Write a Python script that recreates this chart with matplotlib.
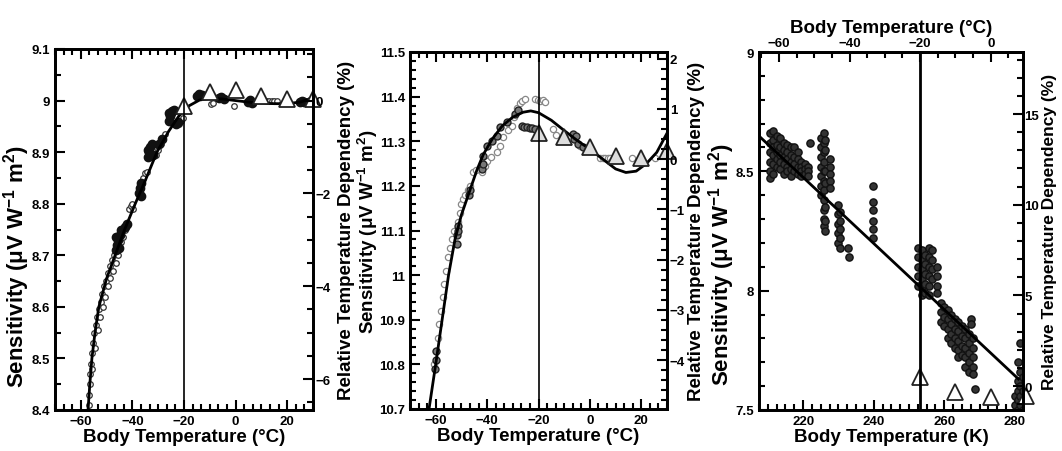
import matplotlib
matplotlib.use('Agg')
import matplotlib.pyplot as plt
from matplotlib.ticker import MultipleLocator, FixedLocator

plt.rcParams['font.family'] = ['Liberation Sans', 'DejaVu Sans']
plt.rcParams['font.weight'] = 'bold'
plt.rcParams['mathtext.fontset'] = 'custom'
plt.rcParams['mathtext.rm'] = 'Liberation Sans:bold'
plt.rcParams['mathtext.it'] = 'Liberation Sans:bold'
plt.rcParams['mathtext.bf'] = 'Liberation Sans:bold'

# ---------------- panel 1 data (deg C, sensitivity) ----------------
fit1_t = [-57.2, -56.5, -55.7, -54.5, -53.0, -50.0, -46.7, -43.0, -38.9, -35.0,
          -30.5, -26.0, -22.0, -18.0, -14.0, -10.0, -5.0, 0.0, 5.0, 10.0,
          15.0, 20.0, 25.0, 28.0, 30.0]
fit1_s = [8.40, 8.45, 8.50, 8.55, 8.60, 8.655, 8.70, 8.75, 8.80, 8.845,
          8.90, 8.94, 8.97, 8.99, 9.001, 9.004, 9.003, 9.000, 8.997, 8.995,
          8.994, 8.994, 8.997, 9.002, 9.008]

open1_t = [-57.0, -56.8, -56.6, -56.3, -56.0, -55.6, -55.2, -54.7, -54.2, -53.6,
           -53.0, -52.3, -51.6, -50.9, -50.2, -49.4, -48.6, -47.8, -47.0, -55.5,
           -54.5, -53.5, -52.5, -51.5, -50.5, -49.5, -48.5, -47.5, -46.5, -45.5,
           -44.5, -43.5, -43.0, -41.5, -40.5, -40.0, -39.8, -36.0, -35.0, -34.4,
           -31.0, -30.0, -29.0, -28.0, -27.5, -21.8, -21.0, -20.5, -9.5, -8.8,
           -0.8, 12.0, 13.0, 14.0, 15.0, 16.0]
open1_s = [8.41, 8.43, 8.45, 8.47, 8.49, 8.51, 8.53, 8.55, 8.565, 8.58,
           8.595, 8.61, 8.625, 8.64, 8.65, 8.665, 8.68, 8.69, 8.70, 8.48,
           8.52, 8.555, 8.58, 8.60, 8.62, 8.64, 8.655, 8.67, 8.685, 8.70,
           8.725, 8.735, 8.75, 8.79, 8.795, 8.80, 8.79, 8.85, 8.86, 8.862,
           8.895, 8.905, 8.915, 8.925, 8.935, 8.955, 8.96, 8.966, 8.994, 8.995,
           8.99, 9.0, 9.0, 9.0, 9.0, 9.0]

dark1_t = [-46.5, -46.0, -45.5, -45.0, -44.5, -46.3, -45.3, -43.0, -42.2, -37.5,
           -37.0, -36.5, -36.8, -34.0, -33.5, -33.0, -32.5, -33.8, -32.0, -29.5,
           -28.5, -26.0, -25.5, -25.0, -24.5, -24.0, -25.8, -23.2, -22.5, -15.0,
           -14.0, -13.2, -6.5, -5.5, -4.5, 4.8, 5.5, 6.2, 25.0, 25.8, 26.5]
dark1_s = [8.71, 8.72, 8.73, 8.74, 8.75, 8.735, 8.715, 8.755, 8.76, 8.82,
           8.83, 8.84, 8.815, 8.89, 8.90, 8.91, 8.915, 8.905, 8.895, 8.915,
           8.925, 8.96, 8.97, 8.975, 8.98, 8.982, 8.975, 8.955, 8.958, 9.008,
           9.012, 9.01, 9.005, 9.007, 9.004, 8.997, 9.002, 8.996, 8.997, 9.0, 8.998]

tri1_t = [-20, -10, 0, 10, 20, 30]
tri1_s = [8.99, 9.016, 9.021, 9.008, 9.003, 9.004]

# ---------------- panel 2 data ----------------
fit2_t = [-62.6, -60.0, -57.5, -55.0, -52.5, -50.0, -47.0, -44.0, -41.5, -38.0,
          -34.0, -30.0, -26.0, -23.0, -20.0, -15.0, -10.0, -5.0, 0.0, 5.0,
          10.0, 14.0, 18.0, 22.0, 26.0, 30.0]
fit2_s = [10.70, 10.80, 10.90, 11.00, 11.08, 11.135, 11.185, 11.235, 11.27, 11.305,
          11.335, 11.354, 11.365, 11.368, 11.364, 11.347, 11.324, 11.302, 11.282, 11.26,
          11.238, 11.23, 11.233, 11.25, 11.275, 11.318]

grey2_t = [-60.5, -59.8, -59.2, -58.6, -58.0, -57.3, -56.6, -55.9, -55.2, -54.5,
           -53.8, -53.0, -51.5, -50.5, -50.0, -49.2, -48.5, -47.5, -46.6, -45.4,
           -44.5, -42.0, -41.0, -40.0, -38.5, -36.3, -35.0, -33.7, -31.8, -30.5,
           -29.5, -28.5, -27.2, -26.5, -25.3, -21.2, -20.2, -19.3, -18.3, -17.3,
           -14.2, -13.0, -4.0, 4.0, 5.0, 6.0, 7.0, 8.0, 16.2, 25.3]
grey2_s = [10.80, 10.83, 10.86, 10.89, 10.92, 10.95, 10.98, 11.01, 11.04, 11.06,
           11.08, 11.10, 11.12, 11.14, 11.16, 11.17, 11.18, 11.19, 11.20, 11.23,
           11.235, 11.23, 11.245, 11.255, 11.265, 11.275, 11.29, 11.309, 11.325, 11.335,
           11.355, 11.375, 11.385, 11.39, 11.395, 11.395, 11.393, 11.39, 11.392, 11.388,
           11.327, 11.315, 11.29, 11.262, 11.262, 11.262, 11.262, 11.262, 11.262, 11.262]

dark2_t = [-60.3, -60.0, -59.7, -51.8, -51.7, -51.5, -51.4, -47.0, -46.5, -42.1,
           -41.5, -41.5, -40.2, -38.2, -36.3, -35.0, -32.4, -29.0, -28.0, -26.5,
           -25.5, -24.5, -23.5, -22.5, -21.5, -6.5, -6.0, -5.5, -4.6, -2.5]
dark2_s = [10.79, 10.81, 10.83, 11.07, 11.09, 11.11, 11.10, 11.18, 11.19, 11.238,
           11.25, 11.268, 11.29, 11.301, 11.312, 11.331, 11.344, 11.36, 11.37, 11.335,
           11.332, 11.333, 11.33, 11.33, 11.328, 11.317, 11.306, 11.312, 11.294, 11.288]

tri2_t = [-20, -10, 0, 10, 20, 30]
tri2_s = [11.318, 11.309, 11.287, 11.267, 11.263, 11.279]

# ---------------- panel 3 data (Kelvin, sensitivity) ----------------
dots3_k = ([210.5] * 6 + [211.5] * 6 + [212.5] * 5 + [213.5] * 5 + [214.5] * 5 +
           [215.5] * 5 + [216.5] * 5 + [217.5] * 4 + [218.5] * 4 + [219.5] * 4 +
           [220.5] * 3 + [221.5] * 3 + [222.0] +
           [225.2] * 7 + [225.8] * 11 + [226.3] * 7 + [227.6] * 5 +
           [229.8] * 5 + [230.4] * 5 + [232.8, 233.0] + [239.8] * 6 +
           [252.6] * 5 + [253.6] * 6 + [254.6] * 5 + [255.6] * 6 + [256.6] * 4 + [257.9] * 4 +
           [259.0] * 3 + [260.0] * 3 + [261.0] * 4 + [262.0] * 4 + [263.0] * 4 +
           [264.0] * 5 + [265.0] * 4 + [266.0] * 5 + [267.0] * 5 + [267.5] * 2 +
           [268.0] * 5 + [268.7] +
           [280.0] * 2 + [280.8] * 5 + [281.5] * 5 + [282.2] * 4)
dots3_s = ([8.66, 8.62, 8.58, 8.54, 8.50, 8.47] + [8.67, 8.63, 8.60, 8.57, 8.53, 8.49] +
           [8.65, 8.61, 8.58, 8.55, 8.52] + [8.64, 8.60, 8.57, 8.54, 8.51] +
           [8.62, 8.59, 8.56, 8.53, 8.49] + [8.61, 8.58, 8.55, 8.52, 8.50] +
           [8.60, 8.57, 8.54, 8.51, 8.48] + [8.60, 8.56, 8.53, 8.50] +
           [8.58, 8.55, 8.52, 8.49] + [8.54, 8.52, 8.50, 8.48] +
           [8.53, 8.51, 8.49] + [8.52, 8.50, 8.48] + [8.62] +
           [8.64, 8.60, 8.56, 8.52, 8.48, 8.44, 8.40] +
           [8.66, 8.62, 8.58, 8.54, 8.50, 8.46, 8.42, 8.38, 8.34, 8.30, 8.27] +
           [8.63, 8.59, 8.50, 8.45, 8.35, 8.29, 8.25] + [8.55, 8.52, 8.49, 8.46, 8.43] +
           [8.36, 8.32, 8.28, 8.24, 8.20] + [8.33, 8.29, 8.26, 8.22, 8.18] + [8.18, 8.14] +
           [8.44, 8.37, 8.34, 8.29, 8.26, 8.22] +
           [8.18, 8.14, 8.10, 8.06, 8.02] + [8.17, 8.13, 8.09, 8.05, 8.01, 7.98] +
           [8.15, 8.11, 8.07, 8.03, 7.99] + [8.18, 8.14, 8.10, 8.06, 8.02, 7.98] +
           [8.17, 8.13, 8.09, 8.05] + [8.10, 8.06, 8.02, 7.99] +
           [7.95, 7.91, 7.87] + [7.93, 7.89, 7.85] + [7.92, 7.88, 7.84, 7.80] +
           [7.90, 7.86, 7.82, 7.78] + [7.88, 7.84, 7.80, 7.76] +
           [7.87, 7.83, 7.79, 7.75, 7.72] + [7.85, 7.81, 7.77, 7.73] +
           [7.84, 7.80, 7.76, 7.72, 7.68] + [7.82, 7.78, 7.74, 7.70, 7.66] + [7.88, 7.86] +
           [7.80, 7.76, 7.72, 7.68, 7.65] + [7.59] +
           [7.56, 7.52] + [7.70, 7.62, 7.58, 7.54, 7.50] +
           [7.78, 7.66, 7.60, 7.56, 7.52] + [7.64, 7.58, 7.54, 7.50])

fit3_k = [207.5, 281.0]
fit3_s = [8.648, 7.63]

tri3_k = [253.15, 263.15, 273.15, 283.15]
tri3_s = [7.64, 7.575, 7.555, 7.56]

# top axis of panel 3 (deg C)
top3_ticks = [-60, -40, -20, 0]

# reference sensitivity for the relative (%) axis
ref1, ref2, ref3 = 9.0, 11.26, 7.6

ylabel = 'Sensitivity (\u03bcV W$^{-1}$ m$^{2}$)'
rlabel = 'Relative Temperature Dependency (%)'
LFS = 13.5  # axis label size
TFS = 9.5   # tick label size
W, H = 1062, 452
fig = plt.figure(figsize=(W / 100, H / 100), dpi=100)


def box(l, r, t, b):
    return [l / W, (H - b) / H, (r - l) / W, (b - t) / H]


def style(ax, top=True):
    for sp in ax.spines.values():
        sp.set_linewidth(2)
    ax.tick_params(which='both', direction='in', top=top, right=False, width=1.5, labelsize=TFS)
    ax.tick_params(which='major', length=7)
    ax.tick_params(which='minor', length=4)


def right_axis(ax, ref, major, minor, xlabel_pos, fs=LFS, pad=2):
    ax2 = ax.twinx()
    lo, hi = ax.get_ylim()
    ax2.set_ylim((lo / ref - 1) * 100, (hi / ref - 1) * 100)
    ax2.yaxis.set_major_locator(MultipleLocator(major))
    ax2.yaxis.set_minor_locator(MultipleLocator(minor))
    ax2.tick_params(which='both', direction='in', width=1.5, labelsize=TFS, pad=pad)
    ax2.tick_params(which='major', length=7)
    ax2.tick_params(which='minor', length=4)
    for sp in ax2.spines.values():
        sp.set_linewidth(2)
    ax2.set_ylabel(rlabel, fontsize=fs, fontweight='bold')
    ax2.yaxis.set_label_coords(xlabel_pos, 0.5)
    return ax2


# ---- panel 1 ----
ax = fig.add_axes(box(55, 313, 50, 411))
ax.plot(open1_t, open1_s, 'o', ms=4, mfc='white', mec='#333333', mew=0.9)
ax.plot(dark1_t, dark1_s, 'o', ms=6, mfc='#111111', mec='#111111')
ax.plot(fit1_t, fit1_s, '-', color='k', lw=2)
ax.plot(tri1_t, tri1_s, '^', ms=11, mfc='white', mec='#222222', mew=1.3, clip_on=False)
ax.axvline(-20, color='k', lw=1.2)
ax.set_xlim(-70, 30)
ax.set_ylim(8.4, 9.1)
ax.xaxis.set_major_locator(MultipleLocator(20))
ax.xaxis.set_minor_locator(MultipleLocator(10 / 3))
ax.set_yticks([8.4, 8.5, 8.6, 8.7, 8.8, 8.9, 9.0, 9.1], ['8.4', '8.5', '8.6', '8.7', '8.8', '8.9', '9', '9.1'])
ax.yaxis.set_minor_locator(MultipleLocator(0.05))
style(ax)
ax.set_xlabel('Body Temperature (\u00b0C)', fontsize=LFS, fontweight='bold')
ax.xaxis.set_label_coords(0.5, -0.05)
ax.set_ylabel(ylabel, fontsize=16, fontweight='bold')
ax.yaxis.set_label_coords(-0.089, 0.40)
right_axis(ax, ref1, 2, 0.5, 1.097)

# ---- panel 2 ----
ax = fig.add_axes(box(410, 667, 53, 410))
ax.plot(grey2_t, grey2_s, 'o', ms=4.5, mfc='white', mec='#888888', mew=0.9)
ax.plot(dark2_t, dark2_s, 'o', ms=5, mfc='#777777', mec='#222222', mew=1.0)
ax.plot(fit2_t, fit2_s, '-', color='k', lw=2)
ax.plot(tri2_t, tri2_s, '^', ms=11, mfc='#dddddd', mec='#222222', mew=1.3, clip_on=False)
ax.axvline(-20, color='k', lw=1.2)
ax.set_xlim(-70, 30)
ax.set_ylim(10.7, 11.5)
ax.xaxis.set_major_locator(MultipleLocator(20))
ax.xaxis.set_minor_locator(MultipleLocator(10 / 3))
ax.set_yticks([10.7, 10.8, 10.9, 11.0, 11.1, 11.2, 11.3, 11.4, 11.5],
              ['10.7', '10.8', '10.9', '11', '11.1', '11.2', '11.3', '11.4', '11.5'])
ax.yaxis.set_minor_locator(MultipleLocator(0.02))
style(ax)
ax.set_xlabel('Body Temperature (\u00b0C)', fontsize=LFS, fontweight='bold')
ax.xaxis.set_label_coords(0.5, -0.05)
ax.set_ylabel(ylabel, fontsize=LFS, fontweight='bold')
ax.yaxis.set_label_coords(-0.118, 0.5)
right_axis(ax, ref2, 1, 0.2, 1.082)

# ---- panel 3 ----
ax = fig.add_axes(box(759, 1023, 53, 411))
ax.plot(dots3_k, dots3_s, 'o', ms=5.2, mfc='#333333', mec='#111111', mew=1.0)
ax.plot(fit3_k, fit3_s, '-', color='k', lw=2)
ax.plot(tri3_k, tri3_s, '^', ms=11, mfc='white', mec='#222222', mew=1.3, clip_on=False)
ax.axvline(253.15, color='k', lw=2)
ax.set_xlim(207.5, 282.3)
ax.set_ylim(7.5, 9.0)
ax.xaxis.set_major_locator(MultipleLocator(20))
ax.xaxis.set_minor_locator(MultipleLocator(2.5))
ax.set_yticks([7.5, 8.0, 8.5, 9.0], ['7.5', '8', '8.5', '9'])
ax.yaxis.set_minor_locator(MultipleLocator(0.1))
style(ax, top=False)
ax.set_xlabel('Body Temperature (K)', fontsize=LFS, fontweight='bold')
ax.xaxis.set_label_coords(0.5, -0.05)
ax.set_ylabel(ylabel, fontsize=16, fontweight='bold')
ax.yaxis.set_label_coords(-0.083, 0.41)
sec = ax.secondary_xaxis('top', functions=(lambda k: k - 273.15, lambda c: c + 273.15))
sec.xaxis.set_major_locator(FixedLocator(top3_ticks))
sec.xaxis.set_minor_locator(FixedLocator(list(range(-65, 10, 5))))
sec.tick_params(which='both', direction='in', width=1.5, labelsize=TFS, pad=2)
sec.tick_params(which='major', length=7)
sec.tick_params(which='minor', length=4)
sec.spines['top'].set_linewidth(2)
sec.set_xlabel('Body Temperature (\u00b0C)', fontsize=LFS, fontweight='bold')
right_axis(ax, ref3, 5, 1, 1.072, fs=12.5, pad=1)

fig.savefig('out.png', dpi=100)
